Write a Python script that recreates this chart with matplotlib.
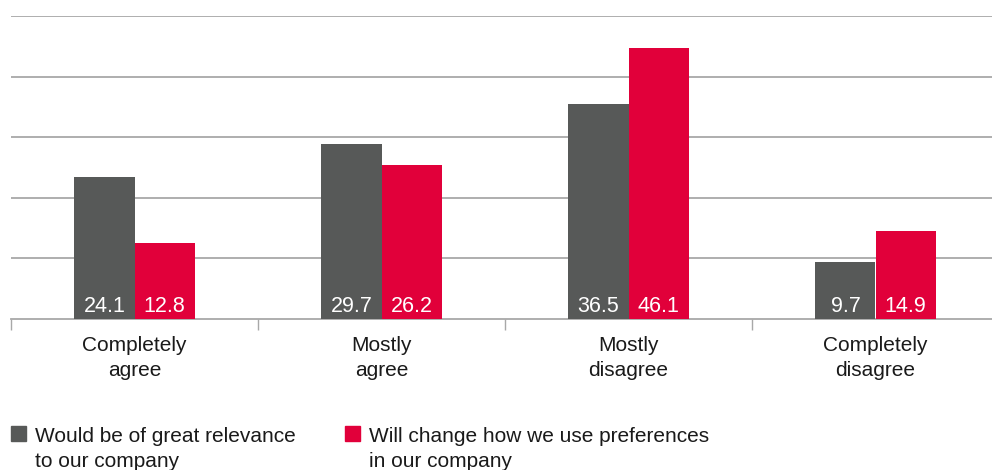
import numpy as np
import matplotlib
matplotlib.use("Agg")
import matplotlib.pyplot as plt
from matplotlib.patches import Rectangle

categories = ["Completely\nagree", "Mostly\nagree", "Mostly\ndisagree", "Completely\ndisagree"]
relevance = [24.1, 29.7, 36.5, 9.7]
change_use = [12.8, 26.2, 46.1, 14.9]
legend_labels = ["Would be of great relevance\nto our company",
                 "Will change how we use preferences\nin our company"]

gray = "#575958"
red = "#E1003A"
grid_col = "#a8a8a8"

plt.rcParams['font.family'] = ['Liberation Sans', 'DejaVu Sans']

fig = plt.figure(figsize=(9.92, 4.70), dpi=100)
ax = fig.add_axes([11 / 992, 151.5 / 470, 988 / 992, 302.5 / 470])

x = np.arange(len(categories))
w = 0.243
b1 = ax.bar(x - w / 2, relevance, w, color=gray, zorder=3)
b2 = ax.bar(x + w / 2, change_use, w, color=red, zorder=3)

# value labels at bottom of bars
for bars, vals in [(b1, relevance), (b2, change_use)]:
    for bar, v in zip(bars, vals):
        ax.annotate(f"{v}", (bar.get_x() + bar.get_width() / 2, 0),
                    xytext=(0, 1), textcoords="offset points",
                    ha="center", va="bottom", color="white", fontsize=15.5, zorder=4)

top = 51.5
ax.set_ylim(0, top)
ax.set_xlim(-0.5, len(categories) - 0.5)
ax.set_yticks(np.linspace(0, top, 6)[1:])
ax.yaxis.grid(True, color=grid_col, linewidth=1.3)
ax.set_axisbelow(True)
ax.tick_params(axis="y", left=False, labelleft=False)

for side in ["top", "right", "left"]:
    ax.spines[side].set_visible(False)
ax.spines["bottom"].set_color(grid_col)
ax.spines["bottom"].set_linewidth(1.3)

# separator ticks between categories
ax.set_xticks(np.arange(len(categories)) - 0.5)
ax.set_xticklabels([])
ax.tick_params(axis="x", which="major", length=8, width=1, color=grid_col, direction="out")
ax.set_xticks(x, minor=True)
ax.set_xticklabels(categories, minor=True, fontsize=15, color="#1a1a1a", linespacing=1.4)
ax.tick_params(axis="x", which="minor", length=0, pad=12.5)

# legend
handles = [(gray, 11, legend_labels[0]), (red, 345, legend_labels[1])]
for col, px, lab in handles:
    fig.patches.append(Rectangle((px / 992, 29 / 470), 15 / 992, 15 / 470,
                                 transform=fig.transFigure, color=col))
    fig.text((px + 24) / 992, 43 / 470, lab, ha="left", va="top",
             fontsize=15, color="#1a1a1a", linespacing=1.4)

fig.savefig("out.png", dpi=100)
